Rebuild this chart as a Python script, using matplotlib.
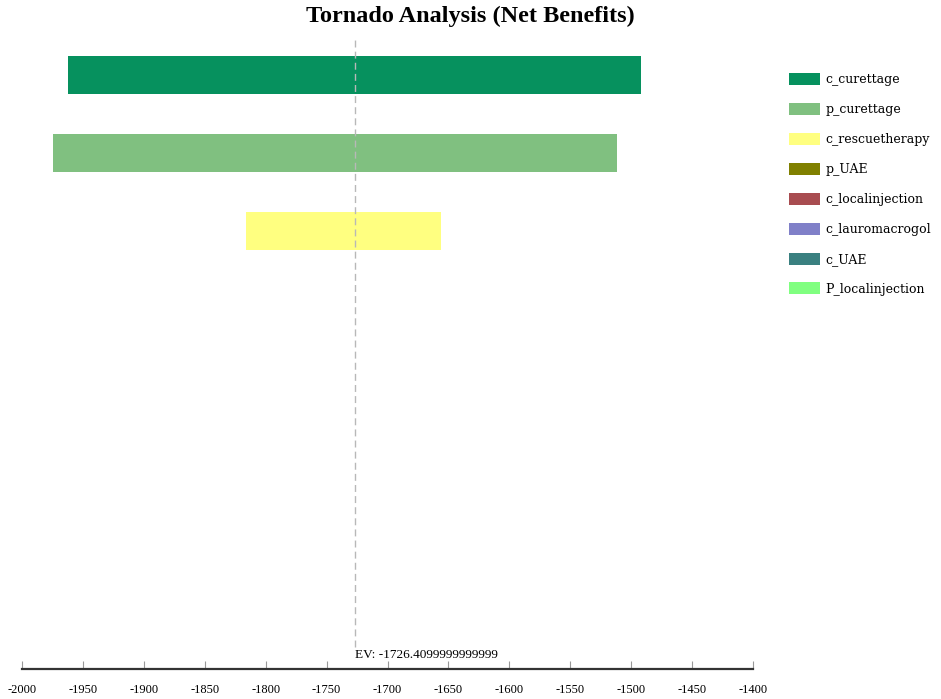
import numpy as np
import matplotlib
matplotlib.use("Agg")
import matplotlib.pyplot as plt
from matplotlib.patches import Patch

ev = -1726.4099999999999

labels = ["c_curettage", "p_curettage", "c_rescuetherapy", "p_UAE",
          "c_localinjection", "c_lauromacrogol", "c_UAE", "P_localinjection"]
low = [-1962, -1974.5, -1816, ev, ev, ev, ev, ev]
high = [-1492, -1512, -1656, ev, ev, ev, ev, ev]
colors = ["#06915e", "#80c080", "#ffff80", "#808000",
          "#a84c50", "#8080c8", "#3a8080", "#80ff80"]
ticks = np.arange(-2000, -1399, 50)

plt.rcParams['font.family'] = ['Liberation Serif', 'DejaVu Serif']

fig = plt.figure(figsize=(9.41, 6.99), dpi=100)
ax = fig.add_axes([22/941, 1 - 669/699, (753 - 22)/941, (669 - 36)/699])

y = np.arange(len(labels))
widths = np.array(high) - np.array(low)
ax.barh(y, widths, left=low, height=0.49, color=colors, edgecolor='none')

ax.set_xlim(-2000, -1400)
ax.set_ylim(7.62, -0.5)

ax.axvline(ev, ymin=0.035, ymax=1, color='#b8b8b8', lw=1, ls=(0, (5, 3)))
ax.text(ev, 0.022, "EV: " + str(ev), transform=ax.get_xaxis_transform(),
        ha='left', va='center', fontsize=9.5)

for s in ['left', 'right', 'top']:
    ax.spines[s].set_visible(False)
ax.spines['bottom'].set_color('#333333')
ax.spines['bottom'].set_linewidth(1.6)
ax.set_yticks([])
ax.set_xticks(ticks)
ax.set_xticklabels([str(t) for t in ticks])
ax.tick_params(axis='x', direction='in', length=6, width=0.8, color='#999999',
               labelsize=9, pad=11)

fig.text(0.5, 1 - 16/699, "Tornado Analysis (Net Benefits)", ha='center', va='center',
         fontsize=17.5, fontweight='bold')

handles = [Patch(facecolor=c, edgecolor='none', label=l) for c, l in zip(colors, labels)]
fig.legend(handles=handles, loc='upper left', bbox_to_anchor=(778/941, 1 - 62/699),
           frameon=False, prop={'family': 'DejaVu Serif', 'size': 9},
           handlelength=2.48, handleheight=1.1, labelspacing=1.33, handletextpad=0.4)

fig.savefig("out.png", dpi=100)
